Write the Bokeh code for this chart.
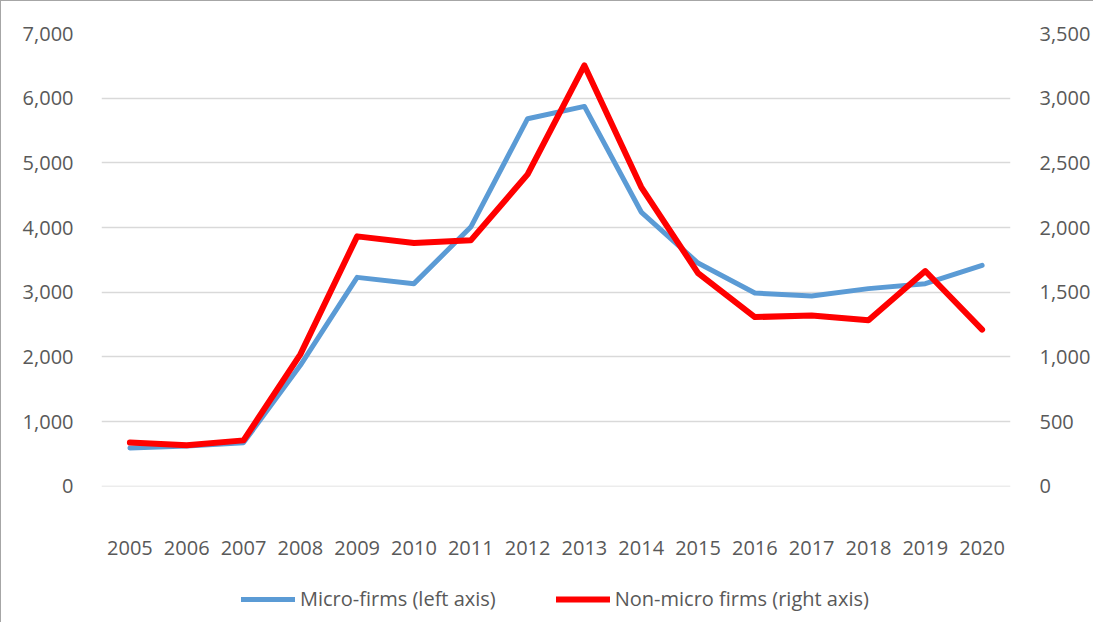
from bokeh.plotting import figure
from bokeh.layouts import column
from bokeh.models import (Range1d, LinearAxis, SingleIntervalTicker, NumeralTickFormatter,
                          Legend, LegendItem, ColumnDataSource)
from bokeh.embed import file_html
from bokeh.resources import INLINE

years = ["2005", "2006", "2007", "2008", "2009", "2010", "2011", "2012",
         "2013", "2014", "2015", "2016", "2017", "2018", "2019", "2020"]
micro = [592, 623, 675, 1870, 3230, 3133, 4008, 5683,
         5873, 4240, 3451, 2988, 2941, 3056, 3133, 3416]
non_micro = [338, 317, 355, 1020, 1932, 1880, 1901, 2411,
             3253, 2313, 1648, 1308, 1321, 1283, 1664, 1211]
series_names = ["Micro-firms (left axis)", "Non-micro firms (right axis)"]

FONT = "Open Sans"
TXT = "#595959"
BLUE = "#5B9BD5"
RED = "#FF0000"

src = ColumnDataSource(dict(year=years, micro=micro, non_micro=non_micro))

p = figure(x_range=years, y_range=Range1d(-3, 7000),
           frame_width=909, frame_height=453,
           output_backend="svg", toolbar_location=None,
           min_border_left=100, min_border_right=78, min_border_top=32, min_border_bottom=90)
p.x_range.range_padding = 0
p.extra_y_ranges = {"right": Range1d(-1.5, 3500)}
p.outline_line_color = None

p.line("year", "micro", source=src, line_color=BLUE, line_width=5,
       line_join="round", line_cap="round")
p.line("year", "non_micro", source=src, y_range_name="right", line_color=RED,
       line_width=6, line_join="round", line_cap="round")

p.yaxis.ticker = SingleIntervalTicker(interval=1000)
p.yaxis.formatter = NumeralTickFormatter(format="0,0")

ra = LinearAxis(y_range_name="right", ticker=SingleIntervalTicker(interval=500),
                formatter=NumeralTickFormatter(format="0,0"))
p.add_layout(ra, "right")

for ax in [p.xaxis[0], p.yaxis[0], ra]:
    ax.axis_line_color = None
    ax.major_tick_line_color = None
    ax.minor_tick_line_color = None
    ax.major_label_text_font = FONT
    ax.major_label_text_font_size = "20px"
    ax.major_label_text_color = TXT
p.yaxis[0].major_label_standoff = 22
ra.major_label_standoff = 23
p.xaxis[0].major_label_standoff = 48

p.xgrid.grid_line_color = None
p.ygrid.grid_line_color = "#D9D9D9"
p.ygrid.grid_line_width = 1.5

# legend strip below the chart (proxy lines share the data but lie outside its y range)
lg = figure(frame_width=909, frame_height=46, x_range=p.x_range, y_range=Range1d(8000, 8001),
            output_backend="svg", toolbar_location=None,
            min_border_left=100, min_border_right=78, min_border_top=0, min_border_bottom=0)
lg.axis.visible = False
lg.grid.visible = False
lg.outline_line_color = None
l1 = lg.line("year", "micro", source=src, line_color=BLUE, line_width=5, line_cap="round")
l2 = lg.line("year", "non_micro", source=src, line_color=RED, line_width=6, line_cap="round")
legend = Legend(items=[LegendItem(label=series_names[0], renderers=[l1]),
                       LegendItem(label=series_names[1], renderers=[l2])],
                orientation="horizontal", location=(140, 10),
                label_text_font=FONT, label_text_font_size="20px", label_text_color=TXT,
                glyph_width=54, glyph_height=20, spacing=60, label_standoff=5,
                border_line_color=None, background_fill_alpha=0, padding=0, margin=0)
lg.add_layout(legend)

layout = column(p, lg, spacing=0,
                styles={"border-left": "1px solid #a6a6a6", "border-top": "1px solid #a6a6a6"})

open("out.html", "w").write(file_html(layout, INLINE))
